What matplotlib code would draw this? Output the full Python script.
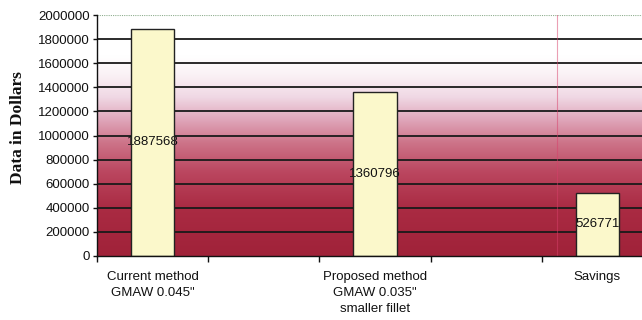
import matplotlib
matplotlib.use("Agg")
import matplotlib.pyplot as plt
import numpy as np
from matplotlib.colors import LinearSegmentedColormap

# Cost comparison data
categories = ["Current method\nGMAW 0.045\"",
              "Proposed method\nGMAW 0.035\"\nsmaller fillet",
              "Savings"]
slots = [0, 2, 4]            # category slot of each bar (gaps in between)
values = [1887568, 1360796, 526771]
yticks = list(range(0, 2000001, 200000))

plt.rcParams["font.family"] = ["Liberation Sans", "DejaVu Sans"]

fig = plt.figure(figsize=(6.42, 3.2), dpi=100)
fig.patch.set_facecolor("white")
ax = fig.add_axes([97 / 642, 64 / 320, 556 / 642, 241 / 320])

ymax = 2000000
xmin, xmax = -0.5, 4.5
ax.set_xlim(xmin, xmax)
ax.set_ylim(0, ymax)

# Plot-area background: white at the top fading into crimson at the bottom
stops = [(0.00, "#a02239"), (0.20, "#aa2b43"), (0.35, "#bb4760"),
         (0.47, "#cd7489"), (0.57, "#e0a8bc"), (0.66, "#f0d8e4"),
         (0.75, "#faf1f5"), (0.83, "#ffffff"), (1.00, "#ffffff")]
cmap = LinearSegmentedColormap.from_list("bg", stops)
grad = np.linspace(0, 1, 256).reshape(-1, 1)
ax.imshow(grad, cmap=cmap, origin="lower", aspect="auto",
          extent=[xmin, xmax, 0, ymax], zorder=0, interpolation="bicubic")

# Horizontal gridlines
for t in yticks[1:-1]:
    ax.axhline(t, color="#1a1a1a", lw=1.3, zorder=1)
ax.axhline(ymax, color="#8fae8f", lw=0.8, ls=(0, (1, 1)), zorder=1)

# Faint vertical line in the right part of the plot
ax.axvline(3.64, color="#d8406a", lw=0.8, alpha=0.5, zorder=1)

width = 0.39
ax.bar(slots, values, width=width, color="#fbf8cb", edgecolor="none", zorder=2)
for x, v in zip(slots, values):
    ax.text(x, v / 2, f"{v}", ha="center", va="center", fontsize=9.5,
            color="#111111", zorder=3)
ax.bar(slots, values, width=width, fill=False, edgecolor="#222222",
       lw=1.0, zorder=4)

# Axes styling
for s in ["top", "right"]:
    ax.spines[s].set_visible(False)
for s in ["left", "bottom"]:
    ax.spines[s].set_color("#111111")
    ax.spines[s].set_linewidth(1.0)
    ax.spines[s].set_zorder(5)

ax.set_yticks(yticks)
ax.set_yticklabels([str(t) for t in yticks], fontsize=9.5, color="#111111")
ax.tick_params(axis="y", length=3, width=1, pad=2, color="#111111")

# Major x ticks mark slot boundaries; category names sit on minor ticks
ax.set_xticks(np.arange(xmin, xmax + 0.01, 1.0))
ax.set_xticklabels([])
ax.tick_params(axis="x", which="major", length=4, width=1, direction="out",
               color="#111111")
ax.set_xticks(slots, minor=True)
ax.set_xticklabels(categories, minor=True, fontsize=9.5, color="#111111",
                   linespacing=1.45)
ax.tick_params(axis="x", which="minor", length=0, pad=11)

fig.text(18 / 642, 0.6, "Data in Dollars", rotation=90, ha="center",
         va="center", fontsize=12.5, fontweight="bold",
         family=["Liberation Serif", "DejaVu Serif"], color="#111111")

fig.savefig("out.png", dpi=100)
